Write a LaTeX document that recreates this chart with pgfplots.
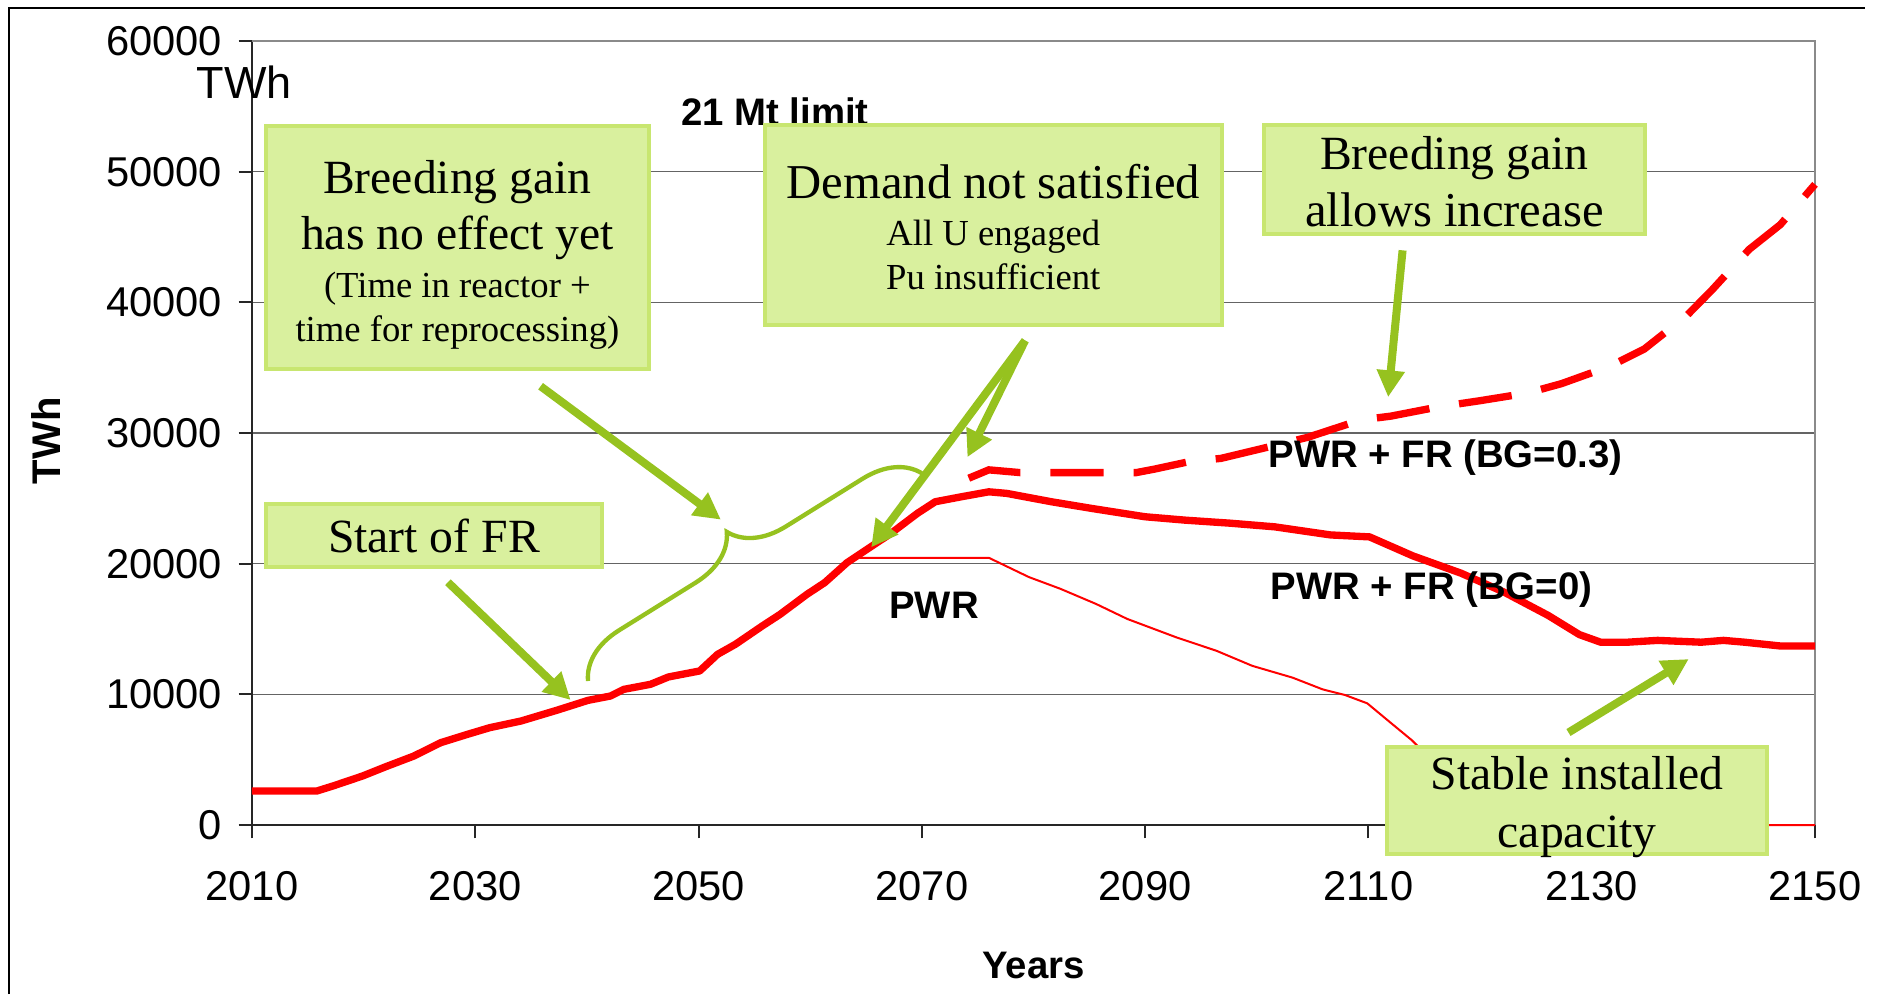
\documentclass[border=0pt]{standalone}
\usepackage{pgfplots}
\pgfplotsset{compat=1.18}
\usepackage{fontspec}
\setmainfont{Liberation Sans}
\newfontfamily\tnr{Liberation Serif}
\usetikzlibrary{arrows.meta,decorations.pathreplacing}
\definecolor{boxfill}{RGB}{217,240,158}
\definecolor{boxdraw}{RGB}{200,230,112}
\definecolor{arrgreen}{RGB}{150,194,31}
\definecolor{gridgray}{RGB}{100,100,100}
\definecolor{framegray}{RGB}{138,138,138}
\definecolor{pred}{RGB}{255,0,0}

\tikzset{
  box/.style={draw=boxdraw, fill=boxfill, line width=1.2pt, inner sep=0pt},
  big/.style={font=\tnr\fontsize{14.3}{16}\selectfont, anchor=base, inner sep=0pt},
  small/.style={font=\tnr\fontsize{11}{13}\selectfont, anchor=base, inner sep=0pt},
  lab/.style={font=\bfseries\fontsize{11.5}{13}\selectfont},
  garrow/.style={draw=arrgreen, line width=2.4pt, -{Triangle[length=8pt,width=8pt]}},
}

\pgfplotstableread{
x y
2064.4 20450
2076.0 20450
2079.6 18970
2082.4 18080
2085.6 16920
2088.4 15770
2092.8 14360
2096.4 13330
2099.6 12180
2103.2 11280
2105.9 10380
2107.9 9950
2109.9 9310
2111.9 7890
2113.9 6480
2116.0 4700
2118.0 3000
2120.0 1400
2122.5 0
2150.0 0
}\pwr

\pgfplotstableread{
x y
2010.0 2600
2015.8 2600
2017.3 3000
2019.9 3750
2022.1 4500
2024.5 5280
2026.9 6300
2029.3 6940
2031.3 7450
2034.1 7960
2037.3 8780
2040.1 9540
2042.1 9870
2043.3 10380
2045.7 10770
2047.3 11330
2050.1 11790
2051.7 13060
2053.3 13830
2055.7 15230
2057.3 16120
2059.7 17650
2061.3 18550
2063.3 20080
2065.3 21220
2067.2 22300
2069.6 23850
2071.2 24740
2073.6 25130
2076.0 25500
2077.6 25380
2081.6 24740
2085.2 24230
2090.0 23590
2093.6 23330
2097.6 23100
2101.6 22820
2106.6 22200
2110.1 22050
2114.0 20590
2118.3 19270
2122.2 17800
2126.1 16040
2128.9 14570
2130.8 13990
2133.2 13990
2135.9 14130
2139.8 13990
2141.8 14130
2143.7 13990
2146.9 13700
2150.0 13700
}\bgzero

\pgfplotstableread{
x y
2074.2 26540
2076.0 27180
2078.8 26970
2089.2 26970
2090.8 27230
2094.0 27820
2096.8 28060
2101.1 28940
2104.6 29680
2109.3 31000
2112.0 31290
2116.4 32020
2119.9 32460
2124.2 33050
2127.3 33780
2131.6 35100
2134.7 36420
2138.6 39060
2140.8 40970
2144.1 44050
2146.9 45950
2150.0 49030
}\bgthree

\begin{document}
\begin{tikzpicture}
\begin{axis}[
  scale only axis, width=468.9pt, height=235.2pt,
  xmin=2010, xmax=2150, ymin=0, ymax=60000,
  xtick={2010,2030,...,2150}, ytick={0,10000,...,60000},
  scaled y ticks=false,
  /pgf/number format/1000 sep={},
  /pgf/number format/assume math mode=true,
  ticklabel style={font=\fontsize{12.5}{14}\selectfont},
  xticklabel style={yshift=-6.4pt},
  yticklabel style={xshift=-1.5pt},
  axis x line*=bottom, axis y line*=left,
  axis line style={black!85, line width=0.6pt, -},
  tick align=outside, major tick length=4pt,
  tick style={black!85, line width=0.6pt},
  ymajorgrids, grid style={gridgray, line width=0.4pt},
  xlabel={Years}, ylabel={TWh},
  xlabel style={font=\bfseries\fontsize{11.5}{13}\selectfont, at={(axis description cs:0.5,-0.179)}, anchor=center},
  ylabel style={font=\bfseries\fontsize{12}{14}\selectfont, at={(axis description cs:-0.132,0.49)}, anchor=center},
  clip=false,
]
\draw[framegray, line width=0.6pt] (rel axis cs:0,1) -- (rel axis cs:1,1) -- (rel axis cs:1,0);
\coordinate (O) at (rel axis cs:0,0);

\addplot[pred, line width=0.6pt] table {\pwr};
\addplot[pred, line width=2.2pt, line join=round] table {\bgzero};
\addplot[pred, line width=2.2pt, dash pattern=on 16pt off 9pt] table {\bgthree};

\node[font=\fontsize{13.5}{15}\selectfont] at (axis cs:2009.3,56860) {TWh};
\node[lab] at (axis cs:2056.85,54560) {21 Mt limit};
\node[lab] at (axis cs:2116.9,28150) {PWR + FR (BG=0.3)};
\node[lab] at (axis cs:2115.65,18030) {PWR + FR (BG=0)};
\node[lab] at (axis cs:2071.1,16840) {PWR};

% arrows
\draw[garrow] (axis cs:2027.55,18580) -- (axis cs:2038.54,9570);
\draw[garrow] (axis cs:2035.85,33580) -- (axis cs:2052.0,23370);
\draw[garrow] (axis cs:2079.25,37080) -- (axis cs:2065.46,21250);
\draw[garrow] (axis cs:2079.25,37080) -- (axis cs:2074.08,28150);
\draw[garrow] (axis cs:2113.06,43980) -- (axis cs:2111.77,32750);
\draw[garrow] (axis cs:2127.92,7080) -- (axis cs:2138.69,12700);
\draw[arrgreen, line width=1.3pt, decorate, decoration={brace, amplitude=16pt}] (axis cs:2040.1,11020) -- (axis cs:2070,26920);

% boxes
\node[box, minimum width=114.7pt, minimum height=72.9pt] at (axis cs:2028.4,44160) {};
\node[big] at (axis cs:2028.4,48364) {Breeding gain};
\node[big] at (axis cs:2028.4,44031) {has no effect yet};
\node[small] at (axis cs:2028.4,40406) {(Time in reactor +};
\node[small] at (axis cs:2028.4,36966) {time for reprocessing)};

\node[box, minimum width=137pt, minimum height=60pt] at (axis cs:2076.4,45910) {};
\node[big, font=\tnr\fontsize{14.6}{16}\selectfont] at (axis cs:2076.4,47930) {Demand not satisfied};
\node[small] at (axis cs:2076.4,44340) {All U engaged};
\node[small] at (axis cs:2076.4,40950) {Pu insufficient};

\node[box, minimum width=114.3pt, minimum height=32.5pt] at (axis cs:2117.7,49400) {};
\node[big] at (axis cs:2117.7,50180) {Breeding gain};
\node[big, font=\tnr\fontsize{14.6}{16}\selectfont] at (axis cs:2117.7,45800) {allows increase};

\node[box, minimum width=100.6pt, minimum height=18.75pt] at (axis cs:2026.3,22170) {};
\node[big] at (axis cs:2026.3,20820) {Start of FR};

\node[box, minimum width=114pt, minimum height=32pt] at (axis cs:2128.7,1890) {};
\node[big] at (axis cs:2128.7,2686) {Stable installed};
\node[big] at (axis cs:2128.7,-1750) {capacity};
\end{axis}
\draw[black, line width=0.6pt] ([shift={(-72.9pt,-50.7pt)}]O) -- ([shift={(-72.9pt,245.1pt)}]O) -- ([shift={(483.9pt,245.1pt)}]O);
\pgfresetboundingbox
\path[use as bounding box] ([shift={(-75.6pt,-50.7pt)}]O) rectangle ([shift={(489.9pt,247.5pt)}]O);
\end{tikzpicture}
\end{document}
